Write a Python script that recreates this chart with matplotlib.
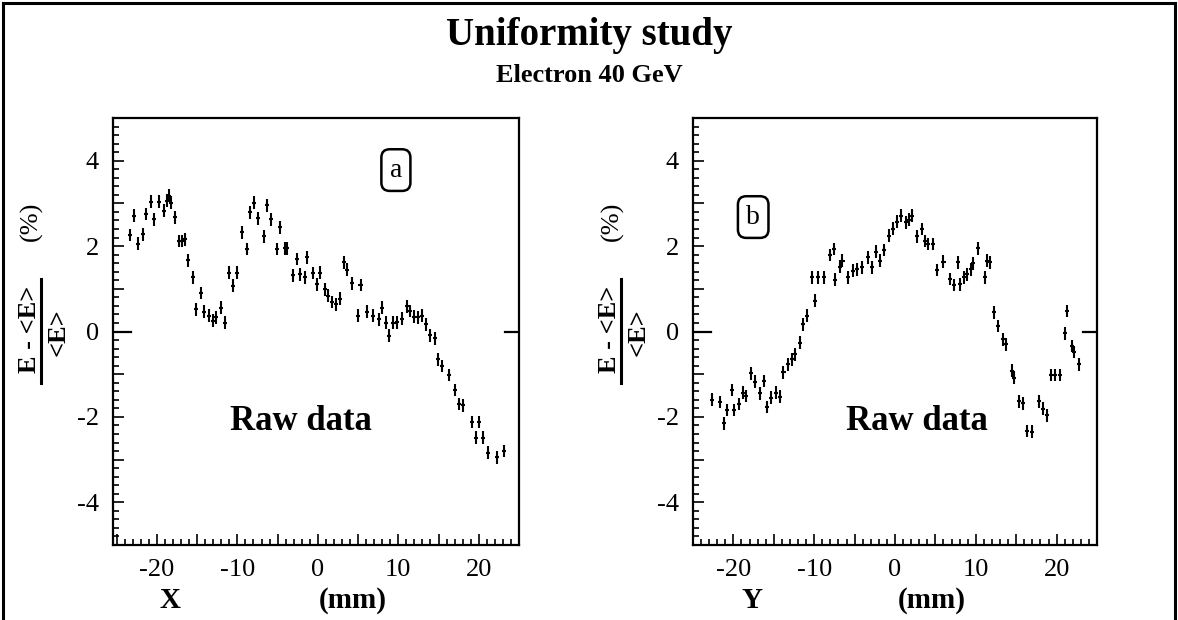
import matplotlib
matplotlib.use("Agg")
import matplotlib.pyplot as plt
from matplotlib.ticker import MultipleLocator, FuncFormatter
from matplotlib.lines import Line2D
from matplotlib.transforms import blended_transform_factory

plt.rcParams["font.family"] = ["Liberation Serif", "DejaVu Serif"]
plt.rcParams["axes.unicode_minus"] = False

# Scan along X: relative energy deviation (%)
x_pos = [-23.3, -22.8, -22.3, -21.7, -21.4, -20.7, -20.4, -19.8, -19.1, -18.8,
         -18.5, -18.2, -17.8, -17.3, -16.9, -16.5, -16.1, -15.5, -15.1, -14.5,
         -14.1, -13.5, -13.0, -12.6, -12.0, -11.5, -11.0, -10.5, -10.0, -9.4,
         -8.8, -8.4, -7.9, -7.4, -6.7, -6.3, -5.8, -5.1, -4.7, -4.1,
         -3.8, -3.1, -2.6, -2.2, -1.6, -1.3, -0.6, -0.1, 0.3, 0.9,
         1.3, 1.8, 2.2, 2.8, 3.3, 3.6, 4.3, 4.95, 5.3, 6.1,
         6.9, 7.6, 8.0, 8.5, 8.9, 9.4, 9.8, 10.5, 11.1, 11.4,
         12.0, 12.4, 13.0, 13.5, 13.9, 14.5, 14.9, 15.4, 16.3, 17.1,
         17.5, 18.1, 19.1, 19.7, 20.0, 20.5, 21.2, 22.3, 23.1]
dev_x = [2.26, 2.71, 2.06, 2.28, 2.75, 3.04, 2.63, 3.04, 2.83, 3.06,
         3.18, 3.02, 2.67, 2.12, 2.12, 2.16, 1.67, 1.27, 0.52, 0.90,
         0.46, 0.37, 0.25, 0.33, 0.56, 0.21, 1.38, 1.07, 1.38, 2.32,
         1.93, 2.79, 3.02, 2.65, 2.23, 2.96, 2.63, 1.93, 2.44, 1.95,
         1.95, 1.32, 1.70, 1.34, 1.27, 1.74, 1.37, 1.11, 1.38, 0.99,
         0.84, 0.69, 0.64, 0.77, 1.62, 1.45, 1.13, 0.37, 1.09, 0.46,
         0.37, 0.29, 0.56, 0.21, -0.10, 0.21, 0.22, 0.30, 0.59, 0.48,
         0.35, 0.33, 0.37, 0.17, -0.09, -0.16, -0.65, -0.81, -1.02, -1.37,
         -1.70, -1.73, -2.12, -2.49, -2.12, -2.49, -2.84, -2.95, -2.80]

# Scan along Y: relative energy deviation (%)
y_pos = [-22.6, -21.7, -21.2, -20.8, -20.2, -19.9, -19.3, -18.8, -18.4, -17.8,
         -17.3, -16.7, -16.2, -15.8, -15.3, -14.7, -14.2, -13.8, -13.3, -12.8,
         -12.4, -11.8, -11.4, -10.9, -10.3, -9.9, -9.5, -8.8, -8.1, -7.6,
         -7.4, -6.8, -6.5, -5.8, -5.2, -4.7, -4.1, -3.3, -2.8, -2.3,
         -1.8, -1.4, -0.7, -0.2, 0.2, 0.7, 1.4, 1.7, 2.1, 2.7,
         3.3, 3.7, 4.1, 4.7, 5.2, 6.0, 6.8, 7.3, 7.8, 8.1,
         8.6, 8.9, 9.4, 9.7, 10.3, 11.1, 11.4, 11.8, 12.3, 12.8,
         13.4, 13.7, 14.5, 14.7, 15.3, 15.9, 16.3, 17.0, 17.8, 18.3,
         18.8, 19.3, 19.8, 20.4, 21.0, 21.3, 21.9, 22.2, 22.8]
dev_y = [-1.60, -1.65, -2.15, -1.84, -1.37, -1.84, -1.70, -1.43, -1.51, -0.98,
         -1.18, -1.45, -1.16, -1.77, -1.55, -1.43, -1.53, -0.96, -0.77, -0.65,
         -0.53, -0.26, 0.17, 0.37, 1.27, 0.72, 1.27, 1.27, 1.79, 1.93,
         1.21, 1.52, 1.66, 1.27, 1.42, 1.46, 1.50, 1.74, 1.50, 1.87,
         1.66, 1.91, 2.24, 2.41, 2.57, 2.71, 2.56, 2.62, 2.71, 2.23,
         2.40, 2.12, 2.05, 2.05, 1.44, 1.63, 1.23, 1.09, 1.62, 1.11,
         1.27, 1.34, 1.46, 1.60, 1.95, 1.27, 1.66, 1.62, 0.45, 0.13,
         -0.18, -0.30, -0.92, -1.08, -1.63, -1.68, -2.33, -2.35, -1.63, -1.81,
         -1.96, -1.02, -1.02, -1.02, -0.04, 0.48, -0.34, -0.48, -0.77]

y_tick_values = [-4, -2, 0, 2, 4]
x_tick_values = [-20, -10, 0, 10, 20]

W, H = 1178, 620
fig = plt.figure(figsize=(W / 100, H / 100), dpi=100)


def fx(px):
    return px / W


def fy(py):
    return 1 - py / H


def make_panel(left_px, right_px, xlim, xs, ys, tag, tag_xy, raw_x,
               axis_name, axis_px, unit_px):
    ax = fig.add_axes([fx(left_px), fy(545), fx(right_px - left_px), (545 - 118) / H])
    ax.errorbar(xs, ys, xerr=0.25, yerr=0.15, fmt="none", ecolor="black",
                elinewidth=1.5, capsize=0)
    ax.set_xlim(*xlim)
    ax.set_ylim(-5, 5)
    ax.xaxis.set_major_locator(MultipleLocator(5))
    ax.xaxis.set_minor_locator(MultipleLocator(1))
    ax.yaxis.set_major_locator(MultipleLocator(1))
    ax.yaxis.set_minor_locator(MultipleLocator(0.2))
    ax.xaxis.set_major_formatter(FuncFormatter(
        lambda v, p: f"{int(round(v))}" if round(v) in x_tick_values else ""))
    ax.yaxis.set_major_formatter(FuncFormatter(
        lambda v, p: f"{int(round(v))}" if round(v) in y_tick_values else ""))
    ax.tick_params(which="both", direction="in", top=False, right=False,
                   labelsize=19, width=1.2, color="black")
    ax.tick_params(which="major", length=8, pad=10)
    ax.tick_params(which="minor", length=4)
    for s in ax.spines.values():
        s.set_linewidth(1.6)
    # long marks at zero deviation on both sides
    tr = blended_transform_factory(ax.transAxes, ax.transData)
    ax.add_line(Line2D([0, 0.045], [0, 0], transform=tr, color="black", lw=1.6))
    ax.add_line(Line2D([0.965, 1.0], [0, 0], transform=tr, color="black", lw=1.6))
    ax.text(raw_x, 0.29, "Raw data", transform=ax.transAxes,
            ha="center", va="center", fontsize=25, fontweight="bold")
    ax.text(tag_xy[0], tag_xy[1], tag, transform=ax.transAxes, ha="center",
            va="center", fontsize=20,
            bbox=dict(boxstyle="round,pad=0.3,rounding_size=0.3", fc="white",
                      ec="black", lw=1.8))
    # axis title
    fig.text(fx(axis_px), fy(600), axis_name, ha="center", va="center",
             fontsize=21, fontweight="bold")
    fig.text(fx(unit_px), fy(600), "(mm)", ha="center", va="center",
             fontsize=21, fontweight="bold")
    # fractional y label: (E - <E>) / <E>  (%)
    base = left_px - 83
    fig.text(fx(base), fy(329), "E - <E>", rotation=90, ha="center", va="center",
             fontsize=19, fontweight="bold")
    fig.add_artist(Line2D([fx(base + 11), fx(base + 11)], [fy(279), fy(383)],
                          color="black", lw=2.2))
    fig.text(fx(base + 28), fy(332), "<E>", rotation=90, ha="center", va="center",
             fontsize=19, fontweight="bold")
    fig.text(fx(base + 2), fy(221), "(%)", rotation=90, ha="center", va="center",
             fontsize=19)
    return ax


make_panel(112.7, 519, (-25.5, 25), x_pos, dev_x, "a", (0.697, 0.878), 0.463,
           "X", 170, 353)
make_panel(693, 1097, (-25, 25), y_pos, dev_y, "b", (0.149, 0.768), 0.555,
           "Y", 752, 932)

fig.text(0.5, fy(36), "Uniformity study", ha="center", va="center",
         fontsize=28, fontweight="bold")
fig.text(0.5, fy(75), "Electron 40 GeV", ha="center", va="center",
         fontsize=19, fontweight="bold")

# outer frame
for xs_, ys_ in (([fx(3), fx(3)], [0, fy(3)]),
                 ([fx(3), fx(1175)], [fy(3), fy(3)]),
                 ([fx(1175), fx(1175)], [fy(3), 0])):
    fig.add_artist(Line2D(xs_, ys_, color="black", lw=2.2))

fig.savefig("out.png", dpi=100)
